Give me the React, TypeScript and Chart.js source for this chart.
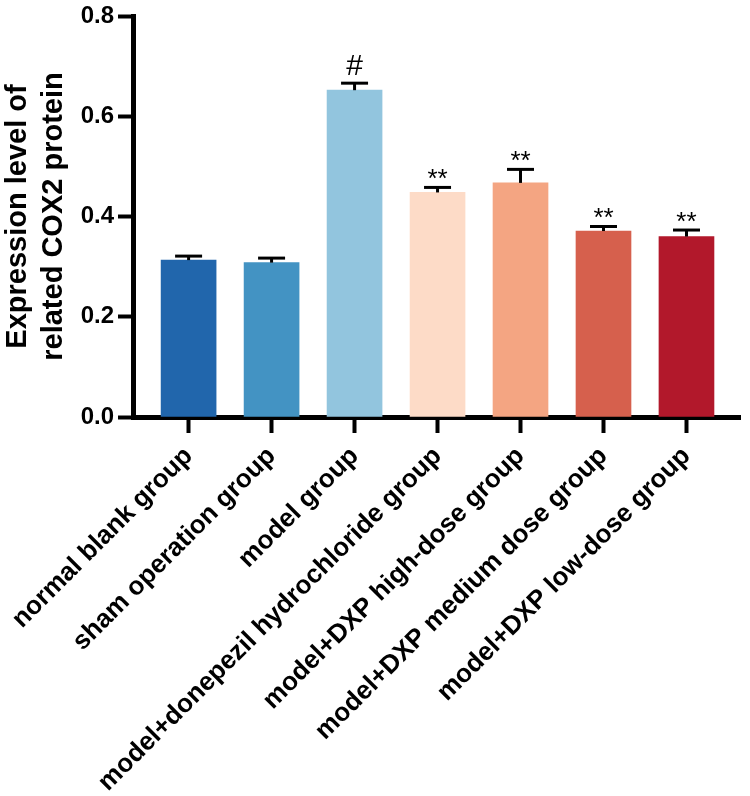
import React, { useEffect, useRef } from 'react';
import { Chart, registerables } from 'chart.js';

Chart.register(...registerables);

const categories = [
  'normal blank group',
  'sham operation group',
  'model group',
  'model+donepezil hydrochloride group',
  'model+DXP high-dose group',
  'model+DXP medium dose group',
  'model+DXP low-dose group',
];
const means = [0.313, 0.308, 0.652, 0.448, 0.467, 0.371, 0.36];
const errors = [0.008, 0.009, 0.014, 0.01, 0.027, 0.009, 0.013];
const markers = ['', '', '#', '**', '**', '**', '**'];
const colors = ['#2166AC', '#4393C3', '#92C5DE', '#FDDBC7', '#F4A582', '#D6604D', '#B2182B'];
const yTicks = [0, 0.2, 0.4, 0.6, 0.8];
const yTitle = ['Expression level of', 'related COX2 protein'];

const FAMILY = "'Liberation Sans', Arial, Helvetica, sans-serif";

const errorBarPlugin = {
  id: 'errorBars',
  afterDatasetsDraw(chart: any) {
    const { ctx } = chart;
    const x = chart.scales.x;
    const y = chart.scales.y;
    ctx.save();
    ctx.strokeStyle = '#000';
    ctx.fillStyle = '#000';
    ctx.lineWidth = 3;
    ctx.lineCap = 'butt';
    means.forEach((m, i) => {
      const px = x.getPixelForValue(i);
      const yb = y.getPixelForValue(m);
      const yt = y.getPixelForValue(m + errors[i]);
      ctx.beginPath();
      ctx.moveTo(px, yb);
      ctx.lineTo(px, yt);
      ctx.stroke();
      ctx.beginPath();
      ctx.moveTo(px - 13.5, yt);
      ctx.lineTo(px + 13.5, yt);
      ctx.stroke();
      const mk = markers[i];
      if (mk) {
        ctx.font = (mk === '#' ? '30px ' : '26px ') + FAMILY;
        ctx.textAlign = 'center';
        ctx.textBaseline = 'alphabetic';
        const mt = ctx.measureText(mk);
        const base = yt - 1.5 - 7 - (mt.actualBoundingBoxDescent || 0);
        ctx.fillText(mk, px, base);
      }
    });
    ctx.restore();
  },
};

export default function App() {
  const ref = useRef<HTMLCanvasElement | null>(null);

  useEffect(() => {
    document.body.style.margin = '0';
    if (!ref.current) return;
    const chart = new Chart(ref.current, {
      type: 'bar',
      data: {
        datasets: [
          {
            data: means.map((v, i) => ({ x: i, y: v })),
            backgroundColor: colors,
            borderWidth: 0,
            barThickness: 55,
          } as any,
        ],
      },
      options: {
        animation: false,
        responsive: true,
        maintainAspectRatio: false,
        layout: { padding: { top: 13, right: 10, left: 0, bottom: 0 } },
        plugins: { legend: { display: false }, tooltip: { enabled: false } },
        scales: {
          x: {
            type: 'linear',
            offset: false,
            min: -0.67,
            max: 6.645,
            afterBuildTicks: (s: any) => {
              s.ticks = categories.map((_, i) => ({ value: i }));
            },
            afterFit: (s: any) => {
              s.height = 379;
              s.paddingLeft = 0;
              s.paddingRight = 0;
            },
            grid: {
              display: true,
              offset: false,
              drawOnChartArea: false,
              drawTicks: true,
              tickLength: 16,
              tickWidth: 4,
              tickColor: '#000',
            },
            border: { display: true, color: '#000', width: 5 },
            ticks: {
              autoSkip: false,
              minRotation: 45,
              maxRotation: 45,
              padding: 8,
              color: '#000',
              font: { family: FAMILY, size: 26, weight: 'bold' },
              callback: (v: any) => categories[v as number] ?? '',
            },
          },
          y: {
            min: 0,
            max: 0.8,
            afterBuildTicks: (s: any) => {
              s.ticks = yTicks.map((v) => ({ value: v }));
            },
            afterFit: (s: any) => {
              s.width = 133;
            },
            grid: {
              display: true,
              drawOnChartArea: false,
              drawTicks: true,
              tickLength: 15,
              tickWidth: 4,
              tickColor: '#000',
            },
            border: { display: true, color: '#000', width: 5 },
            ticks: {
              padding: 4,
              color: '#000',
              font: { family: FAMILY, size: 24, weight: 'bold', lineHeight: 1 },
              callback: (v: any) => Number(v).toFixed(1),
            },
            title: {
              display: true,
              text: yTitle,
              color: '#000',
              font: { family: FAMILY, size: 29, weight: 'bold', lineHeight: 1.25 },
              padding: { top: 0, bottom: 0 },
            },
          },
        },
      } as any,
      plugins: [errorBarPlugin],
    });
    return () => chart.destroy();
  }, []);

  return (
    <div style={{ width: 750, height: 796, position: 'relative' }}>
      <canvas ref={ref} />
    </div>
  );
}
